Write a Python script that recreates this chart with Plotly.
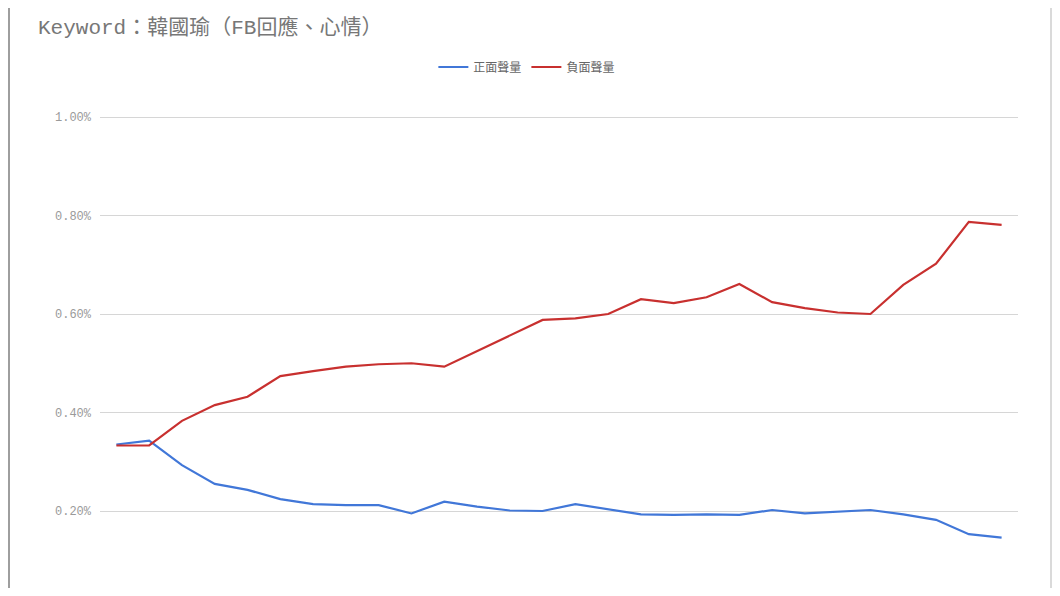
import plotly.graph_objects as go

# 28 data points, x labels are cropped off in the source screenshot
periods = list(range(1, 29))

# 正面聲量 (blue)
positive = [0.335, 0.343, 0.293, 0.255, 0.243, 0.224, 0.214, 0.212, 0.212, 0.195,
            0.219, 0.209, 0.201, 0.200, 0.214, 0.203, 0.193, 0.192, 0.193, 0.192,
            0.202, 0.195, 0.199, 0.202, 0.193, 0.182, 0.153, 0.146]

# 負面聲量 (red)
negative = [0.333, 0.333, 0.383, 0.415, 0.432, 0.474, 0.484, 0.493, 0.498, 0.500,
            0.493, 0.525, 0.556, 0.588, 0.591, 0.600, 0.630, 0.622, 0.634, 0.661,
            0.624, 0.612, 0.603, 0.600, 0.659, 0.702, 0.787, 0.781]

tick_vals = [0.2, 0.4, 0.6, 0.8, 1.0]
tick_text = ['0.20%', '0.40%', '0.60%', '0.80%', '1.00%']

mono = 'Liberation Mono, Noto Sans CJK TC, monospace'

# page body has an 8px margin -> figure made 16px smaller so nothing scrolls
fig = go.Figure()
fig.add_trace(go.Scatter(x=periods, y=positive, mode='lines', name='正面聲量',
                         line=dict(color='#4177d8', width=2.2)))
fig.add_trace(go.Scatter(x=periods, y=negative, mode='lines', name='負面聲量',
                         line=dict(color='#c8302f', width=2.2)))

fig.update_layout(
    width=1044, height=580,
    margin=dict(l=92, r=34, t=103, b=0),
    paper_bgcolor='white', plot_bgcolor='white',
    title=dict(text='Keyword：韓國瑜（FB回應、心情）',
               font=dict(family=mono, size=21, color='#777777'),
               xref='container', x=30/1044, xanchor='left',
               yref='container', y=1-19/580, yanchor='middle'),
    legend=dict(orientation='h', x=0.465, xanchor='center', y=1.0 + 44/477, yanchor='middle',
                font=dict(family='Noto Sans CJK TC', size=12, color='#666666'),
                tracegroupgap=0),
    showlegend=True,
)
fig.update_xaxes(range=[0.5, 28.5], showgrid=False, showticklabels=False,
                 zeroline=False, showline=False)
fig.update_yaxes(range=[0.04365, 1.01218], tickvals=tick_vals, ticktext=tick_text,
                 showgrid=True, gridcolor='#d6d6d6', gridwidth=1, zeroline=False,
                 tickfont=dict(family=mono, size=12, color='#9a9a9a'),
                 ticklabelstandoff=8)

# frame of the screenshot: sheet border left, spreadsheet column on the right
fig.add_shape(type='line', xref='paper', yref='paper', x0=-91/918, x1=-91/918,
              y0=-0.1, y1=1.3, line=dict(color='#9e9e9e', width=2))
fig.add_shape(type='line', xref='paper', yref='paper', x0=1+33/918, x1=1+33/918,
              y0=-0.1, y1=1.3, line=dict(color='#b5b5b5', width=1))

fig.write_html("out.html")
